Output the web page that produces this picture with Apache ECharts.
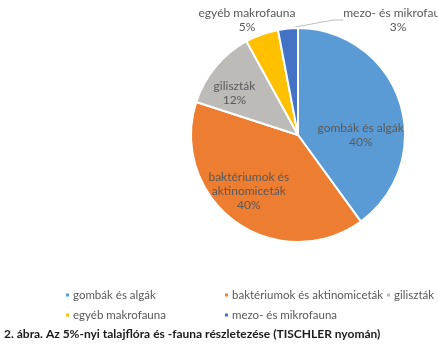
<!DOCTYPE html>
<html>
<head>
<meta charset="utf-8">
<script src="https://cdn.jsdelivr.net/npm/echarts@6/dist/echarts.min.js"></script>
<style>
  html, body { margin: 0; padding: 0; background: #fff; }
  #chart { width: 438px; height: 351px; }
</style>
</head>
<body>
<div id="chart"></div>
<script>
// adatok
const categories = ['gombák és algák', 'baktériumok és aktinomiceták', 'giliszták', 'egyéb makrofauna', 'mezo- és mikrofauna'];
const shares = [40, 40, 12, 5, 3];
const colors = ['#5B9BD5', '#ED7D31', '#BDBBB8', '#FFC000', '#4472C4'];
const labelTexts = ['gombák és algák', 'baktériumok és\naktinomiceták', 'giliszták', 'egyéb makrofauna', 'mezo- és mikrofauna'];
const caption = '2. ábra. Az 5%-nyi talajflóra és -fauna részletezése (TISCHLER nyomán)';

const font = 'Lato';
const textGray = '#595959';

// belső címkék eltolása (Excel kicsit kijjebb teszi őket)
const insideOffset = [[9, 18], [-16, 10], [-20, -6]];

const pieData = categories.map(function(name, i) {
  const item = {
    name: name,
    value: shares[i],
    itemStyle: { color: colors[i] },
    label: {
      formatter: labelTexts[i] + '\n{d|' + shares[i] + '%}'
    }
  };
  if (i < 3) {
    item.label.position = 'inside';
    item.label.offset = insideOffset[i];
    item.labelLine = { show: false };
  } else {
    item.label.position = 'outside';
    item.labelLine = { show: i === 4, length: 6, length2: 10, lineStyle: { color: '#BFBFBF', width: 1 } };
  }
  return item;
});

let myChart = echarts.init(document.getElementById('chart'));

myChart.setOption({
  backgroundColor: '#fff',
  animation: false,
  title: {
    text: caption,
    left: 4,
    top: 328,
    padding: 0,
    textStyle: {
      fontFamily: font,
      fontSize: 12,
      fontWeight: 'bold',
      color: '#1a1a1a'
    }
  },
  legend: [{
    data: [categories[0], categories[3]],
    left: 64
  }, {
    data: [categories[1], categories[4]],
    left: 223
  }, {
    data: [categories[2]],
    left: 385
  }].map(function(l) {
    return Object.assign(l, {
      orient: 'vertical',
      top: 289,
      icon: 'rect',
      itemWidth: 5,
      itemHeight: 5,
      itemGap: 8,
      padding: 0,
      textStyle: { fontFamily: font, fontSize: 11.5, color: textGray, padding: [0, 0, 0, -2] }
    });
  }),
  series: [{
    type: 'pie',
    center: [298, 135],
    radius: [0, 107],
    startAngle: 90,
    clockwise: true,
    itemStyle: { borderColor: '#fff', borderWidth: 2 },
    label: {
      fontFamily: font,
      fontSize: 12,
      color: textGray,
      lineHeight: 14,
      align: 'center',
      rich: {
        d: { fontFamily: font, fontSize: 12, color: textGray, lineHeight: 14, align: 'center' }
      }
    },
    labelLayout: function(params) {
      if (params.dataIndex === 3) {
        return { x: 247, y: 20, align: 'center', verticalAlign: 'middle' };
      }
      if (params.dataIndex === 4) {
        return { x: 398, y: 20, align: 'center', verticalAlign: 'middle' };
      }
    },
    data: pieData
  }]
});
</script>
</body>
</html>
